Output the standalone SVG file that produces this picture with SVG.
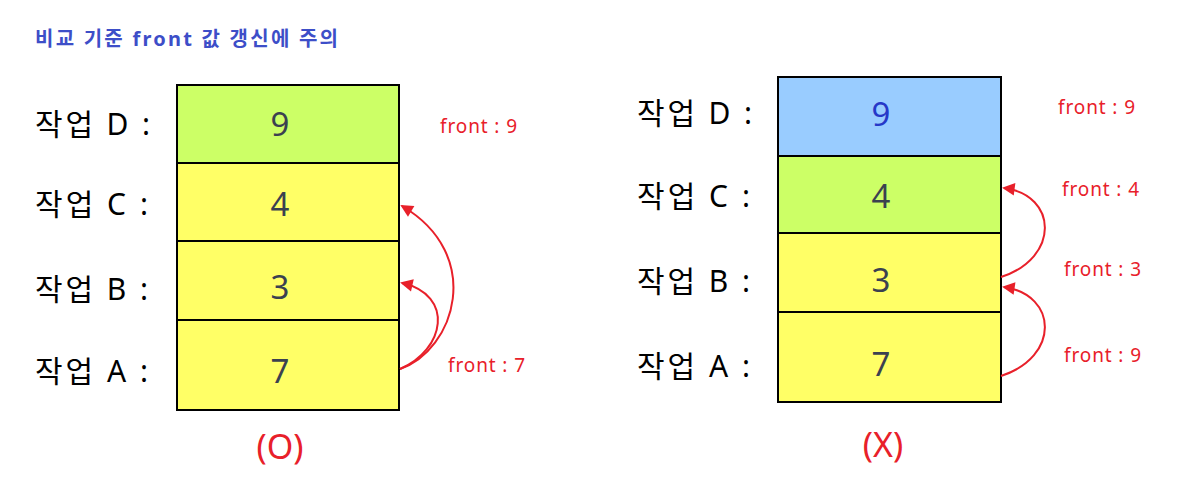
<svg xmlns="http://www.w3.org/2000/svg" width="1189" height="497" viewBox="0 0 1189 497">
<style>
text{font-family:"Noto Sans","Noto Sans CJK KR",sans-serif}
.lbl{font-size:30px;fill:#000}
.num{font-size:33px;fill:#3b4150;text-anchor:middle}
.fr{font-size:19px;fill:#e8202a}
.cap{font-size:34px;fill:#e8202a;text-anchor:middle}
.box{stroke:#000;stroke-width:2}
.arc{fill:none;stroke:#e8202a;stroke-width:2}
</style>
<defs>
<marker id="ah" viewBox="0 0 10 10" refX="8" refY="5" markerWidth="7" markerHeight="7" markerUnits="userSpaceOnUse" orient="auto" overflow="visible">
<path d="M0,0 L10,5 L0,10 z" fill="#e8202a" transform="scale(1.8) translate(-4,-2.2)"/>
</marker>
</defs>
<rect width="1189" height="497" fill="#fff"/>
<text x="35" y="46" textLength="303" lengthAdjust="spacing" style="font-size:20px;font-weight:bold;fill:#3d4ec8">비교 기준 front 값 갱신에 주의</text>

<g id="left-D"><rect class="box" x="177" y="85" width="222" height="78" fill="#ccff66"/><text class="num" x="280" y="136">9</text><text class="lbl" x="35" y="135" textLength="115" lengthAdjust="spacing">작업 D :</text></g>
<g id="left-C"><rect class="box" x="177" y="163" width="222" height="78" fill="#ffff66"/><text class="num" x="280" y="216">4</text><text class="lbl" x="35" y="215" textLength="113" lengthAdjust="spacing">작업 C :</text></g>
<g id="left-B"><rect class="box" x="177" y="241" width="222" height="79" fill="#ffff66"/><text class="num" x="280" y="299">3</text><text class="lbl" x="35" y="300" textLength="113" lengthAdjust="spacing">작업 B :</text></g>
<g id="left-A"><rect class="box" x="177" y="320" width="222" height="90" fill="#ffff66"/><text class="num" x="280" y="383">7</text><text class="lbl" x="35" y="382" textLength="113" lengthAdjust="spacing">작업 A :</text></g>
<text class="fr" x="440" y="133" textLength="77" lengthAdjust="spacing">front : 9</text>
<text class="fr" x="448" y="372" textLength="77" lengthAdjust="spacing">front : 7</text>
<text class="cap" x="280" y="459">(O)</text>

<g id="right-D"><rect class="box" x="778" y="77" width="223" height="79" fill="#99ccff"/><text class="num" x="881" y="126" style="fill:#2638c8">9</text><text class="lbl" x="637" y="124" textLength="115" lengthAdjust="spacing">작업 D :</text></g>
<g id="right-C"><rect class="box" x="778" y="156" width="223" height="77" fill="#ccff66"/><text class="num" x="881" y="208">4</text><text class="lbl" x="637" y="207" textLength="113" lengthAdjust="spacing">작업 C :</text></g>
<g id="right-B"><rect class="box" x="778" y="233" width="223" height="79" fill="#ffff66"/><text class="num" x="881" y="292">3</text><text class="lbl" x="637" y="292" textLength="113" lengthAdjust="spacing">작업 B :</text></g>
<g id="right-A"><rect class="box" x="778" y="312" width="223" height="90" fill="#ffff66"/><text class="num" x="881" y="376">7</text><text class="lbl" x="637" y="377" textLength="113" lengthAdjust="spacing">작업 A :</text></g>
<text class="fr" x="1058" y="114" textLength="77" lengthAdjust="spacing">front : 9</text>
<text class="fr" x="1062" y="196" textLength="77" lengthAdjust="spacing">front : 4</text>
<text class="fr" x="1064" y="276" textLength="77" lengthAdjust="spacing">front : 3</text>
<text class="fr" x="1064" y="362" textLength="77" lengthAdjust="spacing">front : 9</text>
<text class="cap" x="883" y="457">(X)</text>

<g id="connectors">
<path class="arc" d="M400,369 C455,350 485,255 402,206" marker-end="url(#ah)"/>
<path class="arc" d="M400,369 C445,350 455,295 402,283" marker-end="url(#ah)"/>
<path class="arc" d="M1001,277 C1060,258 1058,195 1004,188" marker-end="url(#ah)"/>
<path class="arc" d="M1001,376 C1060,357 1058,295 1004,287" marker-end="url(#ah)"/>
</g>
</svg>
